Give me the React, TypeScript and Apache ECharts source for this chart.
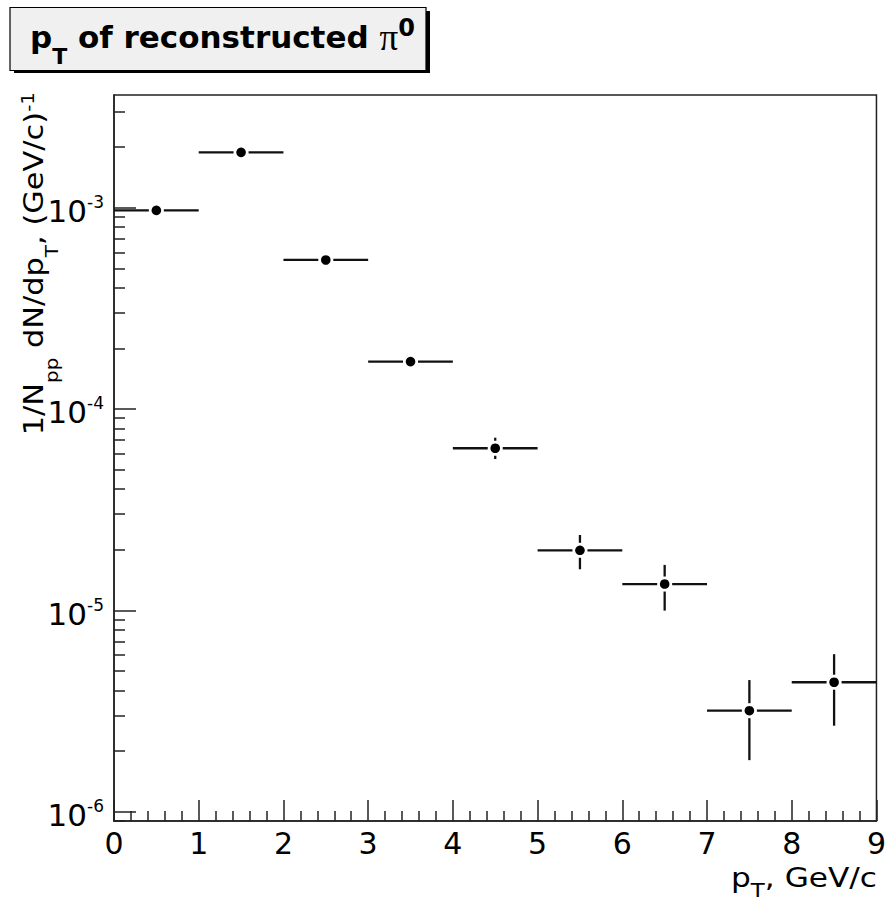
import React, { useEffect, useRef } from 'react';
import * as echarts from 'echarts';

// pT bins (GeV/c)
const binLow = [0, 1, 2, 3, 4, 5, 6, 7, 8];
const binHigh = [1, 2, 3, 4, 5, 6, 7, 8, 9];
const binCenter = [0.5, 1.5, 2.5, 3.5, 4.5, 5.5, 6.5, 7.5, 8.5];
// 1/N dN/dpT values and error bounds
const yieldValues = [9.7e-4, 1.884e-3, 5.5e-4, 1.72e-4, 6.38e-5, 1.986e-5, 1.35e-5, 3.17e-6, 4.39e-6];
const yieldUpper = [9.98e-4, 1.93e-3, 5.7e-4, 1.8e-4, 7.2e-5, 2.366e-5, 1.68e-5, 4.5e-6, 6.05e-6];
const yieldLower = [9.42e-4, 1.85e-3, 5.26e-4, 1.62e-4, 5.64e-5, 1.598e-5, 9.96e-6, 1.8e-6, 2.67e-6];
// axis
const xTickLabels = ['0', '1', '2', '3', '4', '5', '6', '7', '8', '9'];
const yDecadeExponents = [-6, -5, -4, -3];
const Y_MIN = -6.047;
const Y_MAX = -2.44;

const FONT = 'DejaVu Sans';

export default function App() {
  const ref = useRef<HTMLDivElement>(null);
  useEffect(() => {
    if (!ref.current) return;
    const chart = echarts.init(ref.current, undefined, { renderer: 'svg' });

    const minorVals: number[] = [];
    for (let n = -7; n <= -3; n++) {
      for (let k = 2; k <= 9; k++) {
        const v = Math.log10(k) + n;
        if (v > Y_MIN && v < Y_MAX) minorVals.push(v);
      }
    }

    const data = binCenter.map((c, i) => [
      c,
      binLow[i],
      binHigh[i],
      Math.log10(yieldValues[i]),
      Math.log10(yieldLower[i]),
      Math.log10(yieldUpper[i]),
    ]);

    const axisColor = '#222';
    const lineStyle = { color: axisColor, width: 1.5 };

    const option: any = {
      animation: false,
      backgroundColor: '#ffffff',
      grid: {
        left: 114,
        right: 12,
        top: 95,
        bottom: 81,
        show: true,
        borderColor: axisColor,
        borderWidth: 1.5,
        backgroundColor: 'transparent',
      },
      xAxis: {
        type: 'value',
        min: 0,
        max: 9,
        interval: 1,
        axisLine: { show: true, onZero: false, lineStyle },
        axisTick: { show: true, inside: true, length: 21, lineStyle },
        minorTick: { show: true, splitNumber: 5, length: 10, lineStyle },
        axisLabel: {
          margin: 7,
          fontFamily: FONT,
          fontSize: 30,
          color: '#000',
          showMinLabel: true,
          showMaxLabel: true,
          formatter: (v: number) => xTickLabels[Math.round(v)] ?? '',
        },
        splitLine: { show: false },
        minorSplitLine: { show: false },
      },
      yAxis: [
        {
          type: 'value',
          min: Y_MIN,
          max: Y_MAX,
          position: 'left',
          axisLine: { show: true, onZero: false, lineStyle },
          axisTick: { show: true, inside: true, length: 22, customValues: yDecadeExponents, lineStyle },
          axisLabel: {
            customValues: yDecadeExponents,
            margin: 10,
            padding: [7, 0, 0, 0],
            formatter: (v: number) => `{b|10}{s|${v}}`,
            rich: {
              b: { fontFamily: FONT, fontSize: 31, lineHeight: 40, color: '#000' },
              s: { fontFamily: FONT, fontSize: 17, lineHeight: 22, height: 22, verticalAlign: 'top', color: '#000' },
            },
          },
          splitLine: { show: false },
        },
        {
          type: 'value',
          min: Y_MIN,
          max: Y_MAX,
          position: 'left',
          offset: 0,
          axisLine: { show: false },
          axisTick: { show: true, inside: true, length: 11, customValues: minorVals, lineStyle },
          axisLabel: { show: false },
          splitLine: { show: false },
        },
      ],
      series: [
        {
          type: 'custom',
          xAxisIndex: 0,
          yAxisIndex: 0,
          data,
          encode: { x: [0, 1, 2], y: [3, 4, 5] },
          clip: false,
          renderItem: (params: any, api: any) => {
            const xc = api.value(0);
            const xl = api.value(1);
            const xh = api.value(2);
            const y = api.value(3);
            const yl = api.value(4);
            const yh = api.value(5);
            const c = api.coord([xc, y]);
            const pl = api.coord([xl, y]);
            const ph = api.coord([xh, y]);
            const pLow = api.coord([xc, yl]);
            const pHigh = api.coord([xc, yh]);
            const gap = 7.5;
            const ls = { stroke: '#111', lineWidth: 2.3 };
            const children: any[] = [];
            if (c[0] - gap > pl[0])
              children.push({ type: 'line', shape: { x1: pl[0], y1: c[1], x2: c[0] - gap, y2: c[1] }, style: ls });
            if (ph[0] > c[0] + gap)
              children.push({ type: 'line', shape: { x1: c[0] + gap, y1: c[1], x2: ph[0], y2: c[1] }, style: ls });
            if (pHigh[1] < c[1] - gap)
              children.push({ type: 'line', shape: { x1: c[0], y1: pHigh[1], x2: c[0], y2: c[1] - gap }, style: ls });
            if (pLow[1] > c[1] + gap)
              children.push({ type: 'line', shape: { x1: c[0], y1: c[1] + gap, x2: c[0], y2: pLow[1] }, style: ls });
            children.push({ type: 'circle', shape: { cx: c[0], cy: c[1], r: 4.8 }, style: { fill: '#000' } });
            return { type: 'group', children };
          },
        },
      ],
      graphic: [
        {
          type: 'rect',
          shape: { x: 14, y: 11, width: 416, height: 62 },
          style: { fill: '#000' },
        },
        {
          type: 'rect',
          shape: { x: 10, y: 7.5, width: 416, height: 63 },
          style: { fill: '#f0f0f0', stroke: '#000', lineWidth: 1.2 },
        },
        {
          type: 'text',
          x: 30,
          y: 37,
          style: {
            text: '{b|p}{sub|T}{b| of reconstructed }{pi|π}{sup|0}',
            align: 'left',
            verticalAlign: 'middle',
            rich: {
              b: { fontFamily: FONT, fontWeight: 'bold', fontSize: 31, lineHeight: 60, height: 60, fill: '#000' },
              sub: { fontFamily: FONT, fontWeight: 'bold', fontSize: 22, lineHeight: 22, height: 22, verticalAlign: 'bottom', fill: '#000' },
              pi: { fontFamily: 'Liberation Serif', fontSize: 37, lineHeight: 60, height: 60, fill: '#000' },
              sup: { fontFamily: FONT, fontWeight: 'bold', fontSize: 24, lineHeight: 42, height: 42, verticalAlign: 'top', fill: '#000' },
            },
          },
        },
        {
          type: 'text',
          x: 877,
          y: 878,
          scaleX: 1.2,
          style: {
            text: '{b|p}{sub|T}{b|, GeV/c}',
            align: 'right',
            verticalAlign: 'middle',
            rich: {
              b: { fontFamily: FONT, fontSize: 26, lineHeight: 40, height: 40, fill: '#000' },
              sub: { fontFamily: FONT, fontSize: 19, lineHeight: 14, height: 14, verticalAlign: 'bottom', fill: '#000' },
            },
          },
        },
        {
          type: 'text',
          x: 34.3,
          y: 92,
          rotation: Math.PI / 2,
          scaleX: 1.17,
          style: {
            text: '{b|1/N}{sub|pp}{b| dN/dp}{sub|T}{b|, (GeV/c)}{sup|-1}',
            align: 'right',
            verticalAlign: 'middle',
            rich: {
              b: { fontFamily: FONT, fontSize: 26, lineHeight: 60, height: 60, fill: '#000' },
              sub: { fontFamily: FONT, fontSize: 17, lineHeight: 25, height: 25, verticalAlign: 'bottom', fill: '#000' },
              sup: { fontFamily: FONT, fontSize: 17, lineHeight: 47, height: 47, verticalAlign: 'top', fill: '#000' },
            },
          },
        },
      ],
    };

    chart.setOption(option);
    return () => chart.dispose();
  }, []);

  return (
    <div
      ref={ref}
      style={{ position: 'fixed', left: 0, top: 0, width: 889, height: 902, background: '#fff' }}
    />
  );
}
